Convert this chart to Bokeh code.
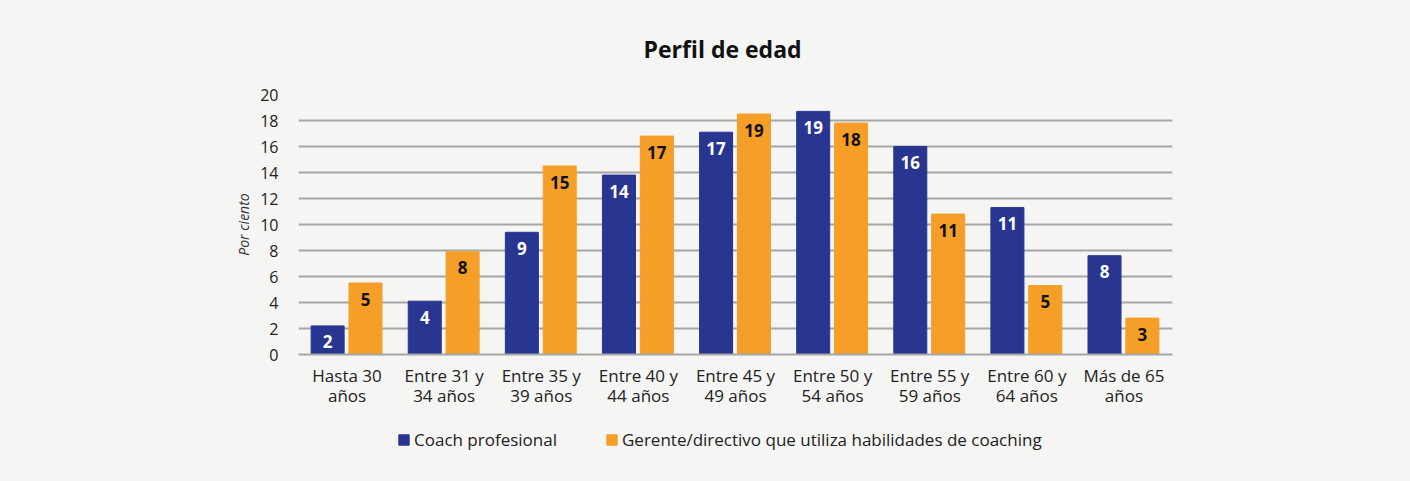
from bokeh.plotting import figure
from bokeh.models import ColumnDataSource, Range1d, FactorRange, Legend, LegendItem
from bokeh.layouts import column
from bokeh.transform import dodge
from bokeh.core.properties import value
from bokeh.embed import file_html
from bokeh.resources import INLINE

categories = ["Hasta 30\naños", "Entre 31 y\n34 años", "Entre 35 y\n39 años", "Entre 40 y\n44 años",
              "Entre 45 y\n49 años", "Entre 50 y\n54 años", "Entre 55 y\n59 años", "Entre 60 y\n64 años",
              "Más de 65\naños"]
coach = [2.2, 4.1, 9.4, 13.8, 17.1, 18.7, 16.0, 11.3, 7.6]
gerente = [5.5, 7.9, 14.5, 16.8, 18.5, 17.8, 10.8, 5.3, 2.8]
coach_labels = ["2", "4", "9", "14", "17", "19", "16", "11", "8"]
gerente_labels = ["5", "8", "15", "17", "19", "18", "11", "5", "3"]
series_names = ["Coach profesional", "Gerente/directivo que utiliza habilidades de coaching"]

BLUE = "#283692"
ORANGE = "#f59e28"
BG = "#f5f5f4"
FONT = "Open Sans"

src = ColumnDataSource(dict(cat=categories, coach=coach, gerente=gerente,
                            cl=coach_labels, gl=gerente_labels))

p = figure(frame_width=874, frame_height=260, x_range=FactorRange(*categories), y_range=Range1d(0, 20),
           output_backend="svg", toolbar_location=None,
           min_border_left=298, min_border_right=238, min_border_top=94, min_border_bottom=66)
p.background_fill_color = BG
p.border_fill_color = BG
p.outline_line_color = None

p.title.text = "Perfil de edad"
p.title.align = "left"
p.title.offset = 345
p.title.text_font = FONT
p.title.text_font_size = "23px"
p.title.text_font_style = "bold"
p.title.text_color = "#111111"
p.title.standoff = 60

r1 = p.vbar(x=dodge("cat", -0.2, range=p.x_range), top="coach", width=0.34, source=src,
            fill_color=BLUE, line_color=BLUE)
r2 = p.vbar(x=dodge("cat", 0.19, range=p.x_range), top="gerente", width=0.34, source=src,
            fill_color=ORANGE, line_color=ORANGE)

p.text(x=dodge("cat", -0.2, range=p.x_range), y="coach", text="cl", source=src,
       text_align="center", text_baseline="middle", y_offset=16,
       text_font=value(FONT), text_font_size="17px", text_font_style="bold", text_color="white")
p.text(x=dodge("cat", 0.19, range=p.x_range), y="gerente", text="gl", source=src,
       text_align="center", text_baseline="middle", y_offset=16,
       text_font=value(FONT), text_font_size="17px", text_font_style="bold", text_color="#111111")

p.xgrid.grid_line_color = None
p.ygrid.grid_line_color = "#a6a6a6"
p.ygrid.grid_line_width = 2
p.yaxis.ticker = list(range(0, 21, 2))

p.yaxis.axis_line_color = None
p.yaxis.major_tick_line_color = None
p.yaxis.minor_tick_line_color = None
p.yaxis.major_label_text_font = FONT
p.yaxis.major_label_text_font_size = "16px"
p.yaxis.major_label_text_color = "#222222"
p.yaxis.major_label_standoff = 14
p.yaxis.axis_label = "Por ciento"
p.yaxis.axis_label_text_font = FONT
p.yaxis.axis_label_text_font_size = "14px"
p.yaxis.axis_label_text_font_style = "italic"
p.yaxis.axis_label_text_color = "#333333"
p.yaxis.axis_label_standoff = 4

p.xaxis.axis_line_color = "#a6a6a6"
p.xaxis.axis_line_width = 2
p.xaxis.major_tick_line_color = None
p.xaxis.minor_tick_line_color = None
p.xaxis.major_label_text_font = FONT
p.xaxis.major_label_text_font_size = "17px"
p.xaxis.major_label_text_color = "#222222"
p.xaxis.major_label_text_line_height = 0.9
p.xaxis.major_label_standoff = 3

# Legend strip below the chart (same data, swatches only)
lf = figure(width=1410, height=61, x_range=p.x_range, y_range=Range1d(0, 20),
            output_backend="svg", toolbar_location=None, x_axis_type=None, y_axis_type=None,
            min_border=0)
lf.background_fill_color = None
lf.border_fill_color = BG
lf.outline_line_color = None
lf.xgrid.visible = False
lf.ygrid.visible = False
l1 = lf.vbar(x=dodge("cat", -0.2, range=lf.x_range), top="coach", width=0.34, source=src,
             fill_color=BLUE, line_color=BLUE, visible=False)
l2 = lf.vbar(x=dodge("cat", 0.19, range=lf.x_range), top="gerente", width=0.34, source=src,
             fill_color=ORANGE, line_color=ORANGE, visible=False)

legend = Legend(items=[LegendItem(label=series_names[0], renderers=[l1]),
                       LegendItem(label=series_names[1], renderers=[l2])],
                orientation="horizontal", location=(99, 30))
legend.background_fill_alpha = 0
legend.border_line_color = None
legend.inactive_fill_alpha = 0
legend.label_text_font = FONT
legend.label_text_font_size = "17px"
legend.label_text_color = "#222222"
legend.glyph_width = 13
legend.glyph_height = 13
legend.label_standoff = 4
legend.spacing = 48
legend.padding = 0
legend.margin = 0
legend.click_policy = "none"
lf.add_layout(legend, "center")

layout = column(p, lf, spacing=0, styles={"background-color": BG})
open("out.html", "w").write(file_html(layout, INLINE))
